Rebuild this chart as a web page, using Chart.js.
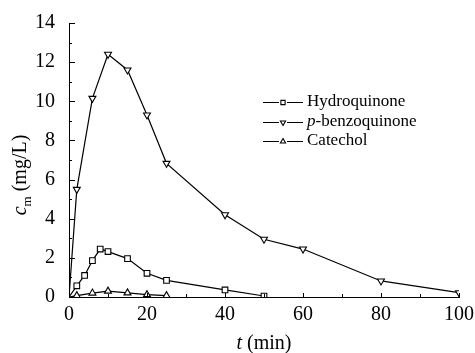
<!DOCTYPE html>
<html lang="en">
<head>
<meta charset="UTF-8" />
<title>Concentration vs time</title>
<style>
  html, body { margin: 0; padding: 0; background: #fff; }
  #wrap { width: 475px; height: 353px; position: relative; }
</style>
</head>
<body>
<div id="wrap"><canvas id="conc"></canvas></div>

<script src="https://cdn.jsdelivr.net/npm/chart.js"></script>
<script>
  // sampling times (min) and measured concentrations (mg/L)
  const hqTimes = [0, 2, 4, 6, 8, 10, 15, 20, 25, 40, 50];
  const hqValues = [0, 0.57, 1.1, 1.86, 2.45, 2.32, 1.96, 1.21, 0.85, 0.36, 0.05];

  const bqTimes = [0, 2, 6, 10, 15, 20, 25, 40, 50, 60, 80, 100];
  const bqValues = [0, 5.5, 10.15, 12.4, 11.6, 9.3, 6.83, 4.2, 2.95, 2.45, 0.82, 0.22];

  const ctTimes = [0, 2, 6, 10, 15, 20, 25];
  const ctValues = [0, 0.07, 0.2, 0.3, 0.21, 0.12, 0.07];

  const xTicks = [0, 20, 40, 60, 80, 100];
  const yTicks = [0, 2, 4, 6, 8, 10, 12, 14];

  const serif = 'Liberation Serif';
  Chart.defaults.font.family = serif;
  Chart.defaults.color = '#000';

  function pairs(xs, ys) {
    return xs.map((x, i) => ({ x: x, y: ys[i] }));
  }

  // the origin point has no marker, only the line leaves from it
  const hideOrigin = ctx => (ctx.raw && ctx.raw.x === 0 ? 0 : 4);

  function series(label, xs, ys, style, rotation) {
    return {
      label: label,
      data: pairs(xs, ys),
      borderColor: '#000',
      borderWidth: 1.2,
      backgroundColor: '#fff',
      pointStyle: style,
      rotation: rotation,
      pointRadius: hideOrigin,
      pointBorderWidth: 1.1,
      pointBackgroundColor: '#fff',
      pointBorderColor: '#000',
      tension: 0
    };
  }

  // inward tick marks, major and minor, taken from the scales
  const innerTicks = {
    id: 'innerTicks',
    afterDraw(chart) {
      const c = chart.ctx;
      const xs = chart.scales.x, ys = chart.scales.y;
      c.save();
      c.strokeStyle = '#000';
      c.lineWidth = 1;
      c.beginPath();
      for (let v = 10; v <= 100; v += 10) {
        const px = Math.round(xs.getPixelForValue(v)) + 0.5;
        const len = v % 20 === 0 ? 4 : 3;
        c.moveTo(px, ys.bottom);
        c.lineTo(px, ys.bottom - len);
      }
      for (let v = 1; v <= 14; v += 1) {
        const py = Math.round(ys.getPixelForValue(v)) + 0.5;
        const len = v % 2 === 0 ? 6 : 3;
        c.moveTo(xs.left, py);
        c.lineTo(xs.left + len, py);
      }
      c.stroke();
      c.restore();
    }
  };

  // axis titles with italic symbol and subscript
  const axisTitles = {
    id: 'axisTitles',
    afterDraw(chart) {
      const c = chart.ctx;
      const xs = chart.scales.x;
      c.save();
      c.fillStyle = '#000';
      c.textBaseline = 'alphabetic';

      // x title
      const it = 'italic 20px "' + serif + '"', rm = '20px "' + serif + '"';
      c.font = it;
      const wt = c.measureText('t').width;
      c.font = rm;
      const wr = c.measureText(' (min)').width;
      const x0 = (xs.left + xs.right) / 2 - (wt + wr) / 2;
      const yb = 349;
      c.font = it; c.fillText('t', x0, yb);
      c.font = rm; c.fillText(' (min)', x0 + wt, yb);

      // y title, rotated
      c.translate(26, 175);
      c.rotate(-Math.PI / 2);
      const sub = '13px "' + serif + '"';
      c.font = it; const wc = c.measureText('c').width;
      c.font = sub; const wm = c.measureText('m').width;
      c.font = rm; const wu = c.measureText(' (mg/L)').width;
      let p = -(wc + wm + wu) / 2;
      c.font = it; c.fillText('c', p, 0); p += wc;
      c.font = sub; c.fillText('m', p, 5); p += wm;
      c.font = rm; c.fillText(' (mg/L)', p, 0);
      c.restore();
    }
  };

  function marker(c, style, x, y, r) {
    c.beginPath();
    if (style === 'rect') {
      const s = r / Math.SQRT2;
      c.rect(x - s, y - s, 2 * s, 2 * s);
    } else {
      const dir = style === 'down' ? -1 : 1;
      for (let k = 0; k < 3; k++) {
        const a = (-90 + k * 120) * Math.PI / 180;
        const px = x + Math.cos(a) * r;
        const py = y + Math.sin(a) * r * dir;
        if (k === 0) c.moveTo(px, py); else c.lineTo(px, py);
      }
      c.closePath();
    }
    c.fillStyle = '#fff';
    c.fill();
    c.stroke();
  }

  // legend with line-marker-line samples
  const sampleLegend = {
    id: 'sampleLegend',
    afterDraw(chart) {
      const c = chart.ctx;
      const rows = [
        { text: 'Hydroquinone', style: 'rect', y: 102 },
        { text: 'p', rest: '-benzoquinone', style: 'down', y: 122 },
        { text: 'Catechol', style: 'up', y: 141 }
      ];
      c.save();
      c.strokeStyle = '#000';
      c.lineWidth = 1.1;
      c.textBaseline = 'middle';
      rows.forEach(row => {
        const yy = Math.round(row.y) + 0.5;
        c.beginPath();
        c.moveTo(263, yy); c.lineTo(279, yy);
        c.moveTo(287, yy); c.lineTo(303, yy);
        c.stroke();
        marker(c, row.style, 283, yy, 3);
        c.fillStyle = '#000';
        if (row.rest) {
          c.font = 'italic 17px "' + serif + '"';
          c.fillText(row.text, 307, row.y);
          const w = c.measureText(row.text).width;
          c.font = '17px "' + serif + '"';
          c.fillText(row.rest, 307 + w, row.y);
        } else {
          c.font = '17px "' + serif + '"';
          c.fillText(row.text, 307, row.y);
        }
      });
      c.restore();
    }
  };

  new Chart(document.getElementById('conc'), {
    type: 'line',
    data: {
      datasets: [
        series('Hydroquinone', hqTimes, hqValues, 'rect', 0),
        series('p-benzoquinone', bqTimes, bqValues, 'triangle', 180),
        series('Catechol', ctTimes, ctValues, 'triangle', 0)
      ]
    },
    options: {
      responsive: true,
      maintainAspectRatio: false,
      animation: false,
      layout: { padding: { top: 23, right: 16, left: 0, bottom: 0 } },
      plugins: {
        legend: { display: false },
        tooltip: { enabled: false }
      },
      scales: {
        x: {
          type: 'linear',
          min: 0,
          max: 100,
          afterBuildTicks: s => { s.ticks = xTicks.map(v => ({ value: v })); },
          grid: { display: false },
          border: { display: true, color: '#000', width: 1 },
          ticks: {
            color: '#000',
            padding: -2,
            maxRotation: 0,
            font: { family: serif, size: 20 }
          },
          afterFit: s => { s.height = 56; }
        },
        y: {
          min: 0,
          max: 14,
          afterBuildTicks: s => { s.ticks = yTicks.map(v => ({ value: v })); },
          grid: { display: false },
          border: { display: true, color: '#000', width: 1 },
          ticks: {
            color: '#000',
            padding: 6,
            font: { family: serif, size: 20 }
          },
          afterFit: s => { s.width = 69; }
        }
      }
    },
    plugins: [innerTicks, axisTitles, sampleLegend]
  });
</script>
</body>
</html>
